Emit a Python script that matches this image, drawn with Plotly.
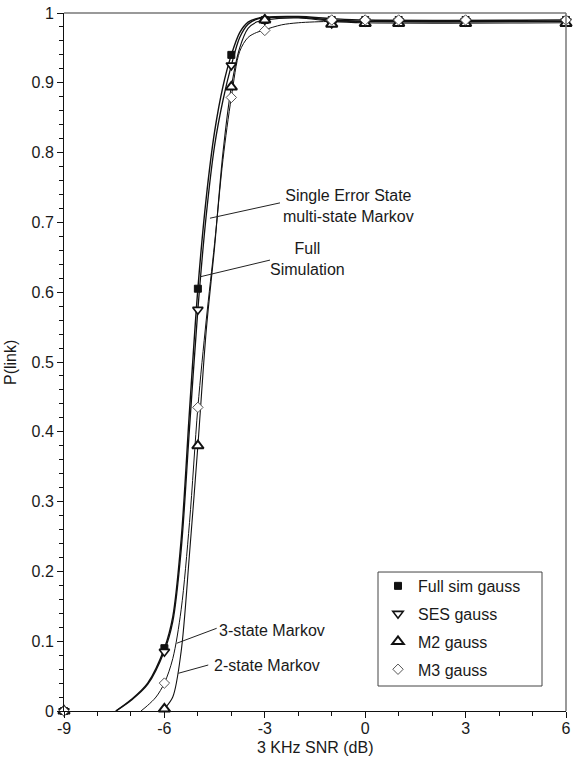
import plotly.graph_objects as go

# ---- measured points (markers) ----
snr_db = [-9, -6, -5, -4, -3, -1, 0, 1, 3, 6]
full_sim = [0.0, 0.090, 0.605, 0.940, 0.990, 0.990, 0.990, 0.990, 0.990, 0.990]
ses = [0.0, 0.085, 0.575, 0.925, 0.990, 0.985, 0.988, 0.988, 0.988, 0.988]
m2 = [0.0, 0.003, 0.380, 0.894, 0.990, 0.984, 0.985, 0.985, 0.985, 0.985]
m3 = [0.0, 0.040, 0.435, 0.879, 0.975, 0.990, 0.990, 0.990, 0.990, 0.990]

# ---- fitted curves ----
full_curve_x = [-7.45, -7.0, -6.5, -6.0, -5.75, -5.5, -5.25, -5.0, -4.75, -4.5, -4.25, -4.0, -3.75, -3.5, -3.25, -3.0, -2.0, -1.0, 0.0, 6.0]
full_curve_y = [0.0, 0.016, 0.040, 0.090, 0.135, 0.245, 0.430, 0.605, 0.735, 0.830, 0.895, 0.940, 0.972, 0.987, 0.992, 0.994, 0.995, 0.992, 0.990, 0.990]

ses_curve_x = [-7.45, -7.0, -6.5, -6.0, -5.75, -5.5, -5.25, -5.0, -4.75, -4.5, -4.25, -4.0, -3.75, -3.5, -3.25, -3.0, -2.0, -1.0, 0.0, 6.0]
ses_curve_y = [0.0, 0.015, 0.038, 0.086, 0.128, 0.230, 0.405, 0.575, 0.710, 0.810, 0.875, 0.925, 0.965, 0.984, 0.991, 0.993, 0.994, 0.990, 0.988, 0.988]

m2_curve_x = [-6.05, -6.0, -5.75, -5.5, -5.25, -5.0, -4.75, -4.5, -4.25, -4.0, -3.75, -3.5, -3.25, -3.0, -2.0, -1.0, 0.0, 6.0]
m2_curve_y = [0.0, 0.003, 0.020, 0.085, 0.225, 0.380, 0.545, 0.665, 0.800, 0.894, 0.950, 0.978, 0.987, 0.990, 0.993, 0.988, 0.986, 0.986]

m3_curve_x = [-6.7, -6.5, -6.25, -6.0, -5.75, -5.5, -5.25, -5.0, -4.75, -4.5, -4.25, -4.0, -3.75, -3.5, -3.25, -3.0, -2.5, -2.0, -1.0, 0.0, 6.0]
m3_curve_y = [0.0, 0.008, 0.020, 0.040, 0.075, 0.145, 0.270, 0.435, 0.560, 0.670, 0.790, 0.879, 0.945, 0.965, 0.972, 0.976, 0.983, 0.986, 0.988, 0.988, 0.988]

legend_names = ["Full sim gauss", "SES gauss", "M2 gauss", "M3 gauss"]

x_tick_vals = [-9, -6, -3, 0, 3, 6]
x_tick_text = ["-9", "-6", "-3", "0", "3", "6"]
y_tick_vals = [0, 0.1, 0.2, 0.3, 0.4, 0.5, 0.6, 0.7, 0.8, 0.9, 1.0]
y_tick_text = ["0", "0.1", "0.2", "0.3", "0.4", "0.5", "0.6", "0.7", "0.8", "0.9", "1"]

FONT = "Liberation Sans, Arial, Helvetica, sans-serif"
INK = "#1a1a1a"
FS = 16

fig = go.Figure()

# curves
for cx, cy, w in [(full_curve_x, full_curve_y, 1.4), (ses_curve_x, ses_curve_y, 1.3),
                  (m2_curve_x, m2_curve_y, 1.1), (m3_curve_x, m3_curve_y, 1.0)]:
    fig.add_trace(go.Scatter(x=cx, y=cy, mode="lines", showlegend=False, hoverinfo="skip",
                             line=dict(color="#111111", width=w, shape="spline", smoothing=0.9),
                             cliponaxis=False))

# markers
marker_specs = [
    (full_sim, dict(symbol="square", size=7, color="#111111", line=dict(color="#111111", width=1))),
    (ses, dict(symbol="triangle-down", size=9, color="white", line=dict(color="#111111", width=1.6))),
    (m2, dict(symbol="triangle-up", size=10, color="white", line=dict(color="#111111", width=2))),
    (m3, dict(symbol="diamond", size=8, color="white", line=dict(color="#555555", width=1))),
]
for i, (vals, mk) in enumerate(marker_specs):
    fig.add_trace(go.Scatter(x=snr_db, y=vals, mode="markers", name=legend_names[i],
                             marker=mk, cliponaxis=False, legendgroup=f"g{i}"))

# leader lines for curve labels
leaders = [
    (-2.546, 0.728, -4.638, 0.706),
    (-2.845, 0.646, -4.937, 0.622),
    (-4.438, 0.1185, -5.633, 0.097),
    (-4.69, 0.0659, -5.585, 0.054),
]
for x0, y0, x1, y1 in leaders:
    fig.add_shape(type="line", xref="x", yref="y", x0=x0, y0=y0, x1=x1, y1=y1,
                  line=dict(color="#222222", width=1))

# frame (top / right in gray)
fig.add_shape(type="line", xref="paper", yref="paper", x0=0, y0=1, x1=1, y1=1,
              line=dict(color="#777777", width=1.5))
fig.add_shape(type="line", xref="paper", yref="paper", x0=1, y0=0, x1=1, y1=1,
              line=dict(color="#777777", width=1.5))

# legend box
fig.add_shape(type="rect", xref="paper", yref="paper", x0=0.6255, x1=0.9522, y0=0.0358, y1=0.1991,
              line=dict(color="#444444", width=1), fillcolor="white", layer="above")

annots = [
    dict(x=-0.49, y=0.724, text="Single Error State<br>multi-state Markov", xanchor="center", yanchor="middle"),
    dict(x=-1.71, y=0.647, text="Full<br>Simulation", xanchor="center", yanchor="middle"),
    dict(x=-4.42, y=0.116, text="3-state Markov", xanchor="left", yanchor="middle"),
    dict(x=-4.57, y=0.0655, text="2-state Markov", xanchor="left", yanchor="middle"),
]
for a in annots:
    fig.add_annotation(xref="x", yref="y", showarrow=False,
                       font=dict(family=FONT, size=FS, color=INK), **a)

# axis titles
fig.add_annotation(xref="paper", yref="paper", x=0.5, y=-0.0375, yanchor="top", xanchor="center",
                   showarrow=False, text="3 KHz SNR (dB)", font=dict(family=FONT, size=FS, color=INK))
fig.add_annotation(xref="paper", yref="paper", x=-0.1076, y=0.5, xanchor="center", yanchor="middle",
                   showarrow=False, text="P(link)", textangle=-90, font=dict(family=FONT, size=FS, color=INK))

fig.update_layout(
    width=575, height=757,
    margin=dict(l=64, r=9, t=13, b=46),
    plot_bgcolor="white", paper_bgcolor="white",
    font=dict(family=FONT, size=FS, color=INK),
    showlegend=True,
    legend=dict(x=0.6255, y=0.2035, xanchor="left", yanchor="top",
                bgcolor="rgba(0,0,0,0)", borderwidth=0,
                font=dict(family=FONT, size=FS, color=INK),
                tracegroupgap=4, itemwidth=30),
)
fig.update_xaxes(range=[-9, 6], tickvals=x_tick_vals, ticktext=x_tick_text, automargin=False,
                 ticklabeloverflow="allow", ticklabelstandoff=-3,
                 showgrid=False, zeroline=False, showline=True, linecolor="#111111", linewidth=1,
                 ticks="outside", ticklen=6, tickcolor="#111111",
                 minor=dict(dtick=1, ticks="outside", ticklen=4, tickcolor="#111111", showgrid=False))
fig.update_yaxes(range=[0, 1], tickvals=y_tick_vals, ticktext=y_tick_text, automargin=False,
                 ticklabeloverflow="allow",
                 showgrid=False, zeroline=False, showline=True, linecolor="#111111", linewidth=1,
                 ticks="outside", ticklen=6, tickcolor="#111111",
                 minor=dict(dtick=0.02, ticks="outside", ticklen=4, tickcolor="#111111", showgrid=False))

fig.write_html("out.html", config={"displayModeBar": False},
               post_script="document.body.style.margin='0px';document.body.style.overflow='hidden';")
